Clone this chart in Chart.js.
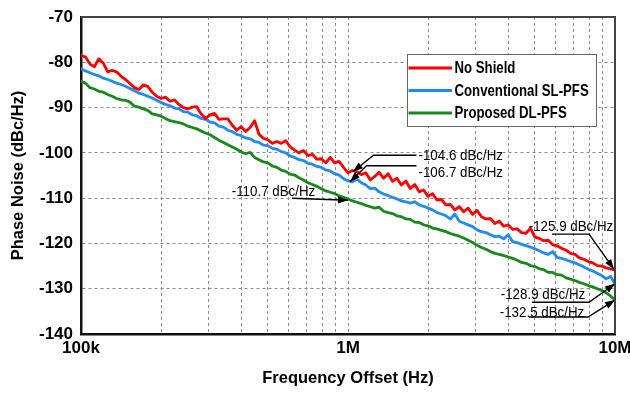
<!DOCTYPE html>
<html><head><meta charset="utf-8">
<script src="https://cdn.jsdelivr.net/npm/chart.js@4.4.1/dist/chart.umd.min.js"></script>
<style>html,body{margin:0;padding:0;background:#fff;}#wrap{width:630px;height:393px;}</style>
</head><body><div id="wrap"><canvas id="c" width="630" height="393"></canvas></div>
<script>
// ---- data ----
const freqKHz = [
100, 103.9, 108, 112.2, 116.6, 121.2, 125.9, 130.8, 135.9, 141.3,
146.8, 152.5, 158.5, 164.7, 171.1, 177.8, 184.8, 192, 199.5, 207.3,
215.4, 223.9, 232.6, 241.7, 251.2, 261, 271.2, 281.8, 292.9, 304.3,
316.2, 328.6, 341.5, 354.8, 368.7, 383.1, 398.1, 413.7, 429.9, 446.7,
464.2, 482.3, 501.2, 520.8, 541.2, 562.3, 584.3, 607.2, 631, 655.6,
681.3, 707.9, 735.6, 764.4, 794.3, 825.4, 857.7, 891.3, 926.1, 962.4,
1000, 1039, 1080, 1122, 1166, 1212, 1259, 1308, 1359, 1413,
1468, 1525, 1585, 1647, 1711, 1778, 1848, 1920, 1995, 2073,
2154, 2239, 2326, 2417, 2512, 2610, 2712, 2818, 2929, 3043,
3162, 3286, 3415, 3548, 3687, 3831, 3981, 4137, 4299, 4467,
4642, 4824, 5012, 5208, 5412, 5623, 5843, 6072, 6310, 6556,
6813, 7079, 7356, 7644, 7943, 8254, 8577, 8913, 9261, 9624,
10000];

const noShield = [
-78.6, -78.8, -80.4, -81.0, -79.2, -80.2, -82.1, -81.8, -82.1, -83.1,
-83.8, -84.7, -85.6, -86.0, -85.0, -85.3, -86.6, -87.5, -88.0, -87.7,
-88.6, -88.3, -89.3, -90.0, -90.3, -89.9, -89.8, -91.4, -92.4, -91.6,
-91.3, -92.6, -92.5, -92.5, -93.9, -95.0, -94.2, -95.3, -94.4, -92.9,
-95.9, -96.8, -97.1, -97.9, -97.5, -97.9, -97.3, -98.7, -99.4, -100.0,
-99.5, -100.6, -100.3, -101.4, -101.3, -102.2, -101.0, -102.2, -101.9, -103.2,
-104.4, -103.9, -104.2, -104.8, -104.4, -106.0, -105.2, -104.3, -105.6, -104.6,
-106.3, -105.6, -107.1, -106.2, -107.9, -107.0, -108.6, -108.2, -109.6, -109.0,
-110.4, -110.3, -111.5, -111.4, -112.6, -111.9, -113.0, -112.2, -113.6, -112.7,
-114.1, -114.6, -114.5, -115.6, -115.1, -116.2, -115.9, -116.9, -116.8, -117.6,
-117.8, -116.6, -118.6, -118.9, -119.4, -119.3, -120.3, -120.5, -121.1, -121.5,
-122.2, -122.4, -123.2, -123.5, -124.0, -124.3, -124.9, -125.0, -125.4, -125.6,
-125.9];

const slPfs = [
-81.4, -81.9, -82.3, -82.7, -83.0, -83.5, -83.8, -84.2, -84.6, -84.9,
-85.3, -85.8, -86.3, -86.8, -87.1, -87.5, -87.9, -88.4, -88.9, -89.3,
-89.6, -90.1, -90.3, -90.9, -91.0, -91.6, -91.8, -92.4, -92.6, -93.2,
-93.4, -94.1, -94.3, -95.0, -95.3, -95.9, -96.2, -96.7, -96.9, -97.5,
-97.7, -98.3, -98.4, -99.0, -99.2, -99.7, -100.0, -100.7, -101.0, -101.5,
-101.7, -102.3, -102.5, -103.0, -103.2, -103.8, -104.0, -104.6, -104.9, -105.7,
-106.2, -106.4, -105.8, -106.6, -107.1, -107.9, -107.8, -108.6, -109.1, -109.4,
-109.8, -110.2, -110.6, -110.8, -111.1, -110.8, -111.5, -111.8, -112.2, -112.6,
-113.2, -113.5, -113.9, -114.6, -113.5, -115.1, -115.5, -115.9, -116.3, -117.0,
-117.4, -117.6, -118.1, -118.5, -118.4, -119.0, -118.1, -119.6, -119.8, -120.2,
-120.5, -120.8, -121.2, -121.6, -122.1, -122.4, -121.8, -123.1, -123.3, -123.6,
-124.0, -124.3, -124.7, -125.2, -125.7, -126.1, -126.6, -127.1, -127.8, -127.3,
-128.9];

const dlPfs = [
-84.2, -84.6, -85.6, -85.9, -86.4, -86.6, -87.1, -87.5, -88.0, -88.3,
-88.4, -88.8, -89.7, -89.9, -90.3, -90.6, -91.4, -91.6, -91.9, -92.4,
-92.9, -93.1, -93.3, -93.6, -94.1, -94.4, -94.7, -95.2, -95.6, -96.0,
-96.6, -97.2, -97.7, -98.2, -98.7, -99.2, -99.8, -100.2, -99.9, -101.0,
-101.5, -102.0, -102.2, -102.9, -103.2, -103.8, -104.1, -104.7, -104.9, -105.5,
-106.0, -106.6, -107.0, -107.4, -107.9, -108.4, -108.7, -109.0, -109.5, -109.8,
-110.2, -110.6, -110.9, -111.2, -111.6, -111.9, -112.2, -112.0, -112.9, -113.2,
-113.4, -113.9, -114.1, -114.6, -114.7, -115.3, -115.4, -115.9, -116.1, -116.6,
-116.8, -117.1, -117.4, -117.8, -118.1, -118.4, -118.8, -119.3, -119.8, -120.4,
-120.9, -121.3, -121.8, -122.2, -122.4, -122.7, -123.0, -123.3, -123.7, -124.2,
-124.4, -124.9, -125.1, -125.6, -125.8, -126.4, -126.4, -126.9, -127.0, -127.6,
-127.9, -128.2, -128.6, -128.9, -129.3, -129.6, -130.0, -130.4, -130.9, -131.6,
-132.5];

const seriesNames = ['No Shield', 'Conventional SL-PFS', 'Proposed DL-PFS'];
const seriesColors = ['#ff0000', '#1e8cf0', '#178a17'];

const xGridTicks = [1e5,2e5,3e5,4e5,5e5,6e5,7e5,8e5,9e5,1e6,2e6,3e6,4e6,5e6,6e6,7e6,8e6,9e6,1e7];
const xMajorTicks = [1e5, 1e6, 1e7];
const xMajorLabels = ['100k', '1M', '10M'];
const yMin = -140, yMax = -70, yStep = 5, yLabelStep = 10;

const annoTexts = ['-104.6 dBc/Hz', '-106.7 dBc/Hz', '-110.7 dBc/Hz', '-125.9 dBc/Hz', '-128.9 dBc/Hz', '-132.5 dBc/Hz'];
const annoFreq = [1e6, 1e6, 1e6, 1e7, 1e7, 1e7];
const annoValue = [-104.6, -106.7, -110.7, -125.9, -128.9, -132.5];

// ---- layout / styling (pixel offsets relative to arrow tip) ----
const annoGeom = [
  {path: [[68.5,-18.5],[25.5,-18.5],[5,-2]], tx: 70.5, ty: -17.5, align: 'left'},
  {path: [[68.5,-17.5],[18.5,-17.5],[2,-1.5]], tx: 70.5, ty: -10.5, align: 'left'},
  {path: [[-56,-3],[0,-1]], tx: -74.5, ty: -9.5, align: 'center'},
  {path: [[-63,-36],[-26,-36],[-1,-1]], tx: -44, ty: -43.5, align: 'center'},
  {path: [[-83,18.5],[-26,18.5],[0,0]], tx: -72, ty: 11.7, align: 'center'},
  {path: [[-86,17],[-27,17],[0,0]], tx: -73, ty: 12.6, align: 'center'}
];
const FONT = '"Liberation Sans", Arial, Helvetica, sans-serif';

const mk = vals => freqKHz.map((f, i) => ({x: f * 1000, y: vals[i]}));
const seriesVals = [noShield, slPfs, dlPfs];

const overlay = {
  id: 'overlay',
  afterDatasetsDraw(chart) {
    const {ctx, scales: {x, y}} = chart;
    ctx.save();
    ctx.strokeStyle = '#000'; ctx.fillStyle = '#000'; ctx.lineWidth = 1.4;
    annoTexts.forEach((t, i) => {
      const px = x.getPixelForValue(annoFreq[i]);
      const py = y.getPixelForValue(annoValue[i]);
      const g = annoGeom[i];
      const pts = g.path.map(([dx, dy]) => [px + dx, py + dy]);
      ctx.beginPath();
      ctx.moveTo(pts[0][0], pts[0][1]);
      for (let k = 1; k < pts.length; k++) ctx.lineTo(pts[k][0], pts[k][1]);
      ctx.stroke();
      const [x1, y1] = pts[pts.length - 2], [x2, y2] = pts[pts.length - 1];
      const ang = Math.atan2(y2 - y1, x2 - x1), c = Math.cos(ang), s = Math.sin(ang);
      const L = 10, W = 3.6;
      ctx.beginPath();
      ctx.moveTo(x2, y2);
      ctx.lineTo(x2 - L * c + W * s, y2 - L * s - W * c);
      ctx.lineTo(x2 - L * c - W * s, y2 - L * s + W * c);
      ctx.closePath(); ctx.fill();
      ctx.save();
      ctx.translate(px + g.tx, py + g.ty);
      ctx.scale(0.92, 1);
      ctx.font = '14.5px ' + FONT;
      ctx.textAlign = g.align; ctx.textBaseline = 'middle';
      ctx.fillText(t, 0, 0);
      ctx.restore();
    });
    ctx.restore();
  },
  afterDraw(chart) {
    const {ctx, chartArea: a} = chart;
    ctx.save();
    ctx.strokeStyle = '#444'; ctx.lineWidth = 2;
    ctx.beginPath();
    ctx.moveTo(a.left, a.top); ctx.lineTo(a.right, a.top); ctx.lineTo(a.right, a.bottom);
    ctx.stroke();
    const bx = a.right - 208, by = a.top + 37, bw = 189, bh = 72;
    ctx.fillStyle = '#fff'; ctx.fillRect(bx, by, bw, bh);
    ctx.strokeStyle = '#666'; ctx.lineWidth = 1;
    ctx.strokeRect(bx + 0.5, by + 0.5, bw, bh);
    const rows = [14, 36.5, 59];
    chart.data.datasets.forEach((ds, i) => {
      const ry = by + rows[i];
      ctx.strokeStyle = ds.borderColor; ctx.lineWidth = 3;
      ctx.beginPath(); ctx.moveTo(bx + 1.5, ry); ctx.lineTo(bx + 45, ry); ctx.stroke();
      ctx.save();
      ctx.translate(bx + 47.5, ry + 0.5);
      ctx.scale(0.8, 1);
      ctx.fillStyle = '#000';
      ctx.font = 'bold 16.5px ' + FONT;
      ctx.textAlign = 'left'; ctx.textBaseline = 'middle';
      ctx.fillText(ds.label, 0, 0);
      ctx.restore();
    });
    ctx.restore();
  }
};

new Chart(document.getElementById('c'), {
  type: 'line',
  data: {
    datasets: seriesNames.map((n, i) => ({
      label: n, data: mk(seriesVals[i]),
      borderColor: seriesColors[i], backgroundColor: seriesColors[i],
      borderWidth: 2.8, pointRadius: 0, tension: 0, fill: false,
      borderJoinStyle: 'round', borderCapStyle: 'round'
    }))
  },
  options: {
    responsive: false, animation: false, devicePixelRatio: 1,
    layout: {padding: {top: 17, right: 15, left: 0, bottom: 0}},
    plugins: {legend: {display: false}, tooltip: {enabled: false}},
    scales: {
      x: {
        type: 'logarithmic', min: 1e5, max: 1e7,
        afterBuildTicks: s => { s.ticks = xGridTicks.map(v => ({value: v})); },
        afterFit: s => { s.height = 59; s.paddingLeft = 0; s.paddingRight = 0; },
        ticks: {
          autoSkip: false, maxRotation: 0, minRotation: 0, padding: 4, color: '#000',
          font: {family: FONT, size: 17, weight: 'bold'},
          callback: v => { const k = xMajorTicks.indexOf(v); return k >= 0 ? xMajorLabels[k] : ''; }
        },
        grid: {color: '#8a8a8a', lineWidth: 1, drawTicks: false},
        border: {display: true, color: '#111', width: 2.5, dash: [3, 3]},
        title: {display: true, text: 'Frequency Offset (Hz)', color: '#000',
          font: {family: FONT, size: 16.5, weight: 'bold'}, padding: {top: 0, bottom: 5}}
      },
      y: {
        min: yMin, max: yMax,
        afterFit: s => { s.width = 81; s.paddingTop = 0; s.paddingBottom = 0; },
        ticks: {
          stepSize: yStep, padding: 8, color: '#000',
          font: {family: FONT, size: 17, weight: 'bold'},
          callback: v => (Math.round(v) % yLabelStep === 0 ? String(v) : '')
        },
        grid: {color: '#8a8a8a', lineWidth: 1, drawTicks: false},
        border: {display: true, color: '#111', width: 2.5, dash: [3, 3]},
        title: {display: true, text: 'Phase Noise (dBc/Hz)', color: '#000',
          font: {family: FONT, size: 16.5, weight: 'bold'}, padding: {top: 9, bottom: 0}}
      }
    }
  },
  plugins: [overlay]
});
</script></body></html>
